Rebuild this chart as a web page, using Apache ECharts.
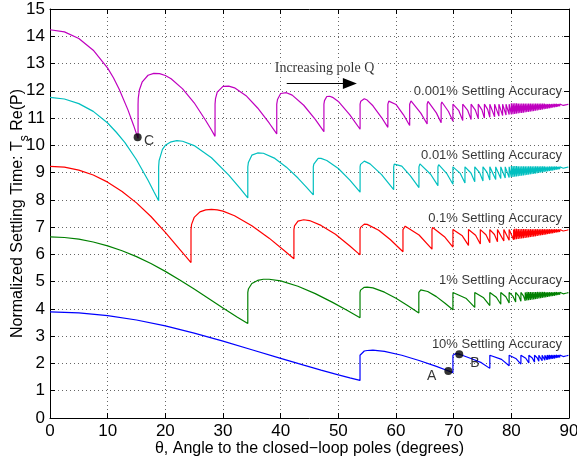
<!DOCTYPE html>
<html><head><meta charset="utf-8">
<script src="https://cdn.jsdelivr.net/npm/echarts@6/dist/echarts.min.js"></script>
<style>html,body{margin:0;padding:0;background:#fff}#c{width:577px;height:461px}</style>
</head><body><div id="c"></div>
<script>
// ---------- data ----------
const xTickValues = [0,10,20,30,40,50,60,70,80,90];
const yTickValues = [0,1,2,3,4,5,6,7,8,9,10,11,12,13,14,15];

const seriesNames = ['0.001% Settling Accuracy','0.01% Settling Accuracy','0.1% Settling Accuracy','1% Settling Accuracy','10% Settling Accuracy'];

const magentaPts = [[0,14.24],[2.5,14.16],[5,13.92],[7.5,13.49],[10,12.83],[11,12.48],[12,12.06],[13.5,11.31],[14.5,10.73],[15,10.42],[15.27,10.26],
[15.27,11.51],[15.3,11.72],[15.5,12.03],[16,12.33],[17,12.57],[18,12.64],[19,12.63],[20,12.56],[21,12.44],[23,12.07],[25,11.56],[27,10.91],[28,10.56],[28.62,10.33],
[28.62,11.51],[28.7,11.71],[29,11.95],[30,12.16],[31,12.17],[32,12.11],[34,11.82],[36,11.37],[38,10.82],[39.32,10.42],
[39.32,11.51],[39.45,11.68],[40,11.9],[41,11.93],[42,11.84],[44,11.47],[46,10.95],[47.5,10.5],
[47.5,11.51],[47.6,11.64],[48,11.79],[48.5,11.8],[49,11.76],[50,11.61],[52,11.12],[53.77,10.59],
[53.77,11.51],[53.9,11.62],[54.5,11.71],[55,11.66],[56,11.45],[57.5,11.02],[58.59,10.66],
[58.59,11.51],[58.75,11.62],[59,11.67],[60,11.5],[61.3,11.12],[62.37,10.73],
[62.37,11.51],[62.6,11.63],[64.3,11.18],[65.4,10.78],
[65.4,11.51],[65.55,11.61],[67,11.19],[67.83,10.83],
[67.83,11.51],[67.95,11.59],[69.1,11.24],[69.87,10.88],
[69.87,11.51],[69.95,11.58],[70.9,11.27],[71.57,10.91],
[71.57,11.51],[71.63,11.57],[72.44,11.28],[73.02,10.95],
[73.02,11.51],[73.07,11.56],[73.76,11.29],[74.26,10.98],
[74.26,11.51],[74.3,11.56],[74.9,11.3],[75.33,11.0],
[75.33,11.51],[75.37,11.55],[75.89,11.32],[76.27,11.03],
[76.27,11.51],[76.3,11.55],[77.1,11.05],
[77.1,11.51],[77.13,11.55],[77.84,11.07],
[77.84,11.51],[77.86,11.54],[78.49,11.09],
[78.49,11.51],[78.51,11.54],[79.08,11.11],
[79.08,11.51],[79.1,11.54],[79.62,11.13],
[79.62,11.51],[79.64,11.54]];

const cyanPts = [[0,11.76],[2.5,11.7],[5,11.53],[7.5,11.245],[10,10.82],[11.5,10.48],[13,10.1],[15,9.47],[17,8.72],[18,8.31],[18.84,7.97],
[18.84,9.21],[18.92,9.44],[19.5,9.85],[20,10.0],[21,10.13],[22,10.17],[23,10.15],[25,9.99],[28,9.545],[31,8.905],[33,8.41],[34.3,8.07],
[34.3,9.21],[34.4,9.37],[35,9.64],[36,9.72],[37,9.71],[39,9.52],[41,9.2],[43,8.8],[44.5,8.46],[45.66,8.18],
[45.66,9.21],[45.75,9.31],[46.5,9.52],[47,9.52],[48,9.445],[50,9.15],[52,8.725],[53.77,8.28],
[53.77,9.21],[53.85,9.3],[54.5,9.42],[55.5,9.32],[57.5,8.925],[59.6,8.375],
[59.6,9.21],[59.7,9.31],[59.95,9.36],[61,9.24],[62.5,8.88],[63.98,8.45],
[63.98,9.21],[64.15,9.32],[66,8.94],[67.27,8.52],
[67.27,9.21],[67.4,9.29],[68.85,8.95],[69.87,8.57],
[69.87,9.21],[69.95,9.27],[71.15,8.97],[71.96,8.62],
[71.96,9.21],[72.02,9.26],[73.0,8.985],[73.66,8.66],
[73.66,9.21],[73.71,9.255],[74.5,9.0],[75.08,8.695],
[75.08,9.21],[75.12,9.25],[75.8,9.01],[76.27,8.73],
[76.27,9.21],[76.3,9.25],[77.29,8.75],
[77.29,9.21],[77.32,9.245],[78.17,8.78],
[78.17,9.21],[78.19,9.24],[78.94,8.8],
[78.94,9.21],[78.96,9.24],[79.62,8.82],
[79.62,9.21],[79.64,9.24]];

const redPts = [[0,9.23],[2.5,9.2],[5,9.09],[7.5,8.91],[10,8.65],[12.5,8.31],[15,7.89],[17.5,7.39],[20,6.81],[22.5,6.185],[23.5,5.935],[24.45,5.7],
[24.45,6.91],[24.55,7.1],[25,7.356],[26,7.56],[27,7.635],[28,7.65],[29,7.636],[30,7.585],[32,7.418],[35,7.05],[38,6.596],[40.5,6.162],[42.3,5.84],
[42.3,6.91],[42.4,7.05],[43,7.22],[44,7.27],[45,7.242],[47,7.064],[49.5,6.74],[52,6.307],[53.76,5.983],
[53.76,6.91],[53.85,6.99],[54.5,7.11],[55,7.1],[57,6.887],[59,6.547],[61.21,6.098],
[61.21,6.91],[61.3,6.98],[61.6,7.035],[64,6.711],[66.24,6.192],
[66.24,6.91],[66.35,6.99],[68.4,6.65],[69.87,6.27],
[69.87,6.91],[69.95,6.97],[71.5,6.68],[72.57,6.33],
[72.57,6.91],[72.63,6.955],[73.8,6.7],[74.62,6.38],
[74.62,6.91],[74.67,6.95],[75.6,6.72],[76.27,6.43],
[76.27,6.91],[76.31,6.945],[77.07,6.73],[77.6,6.46],
[77.6,6.91],[77.63,6.94],[78.7,6.49],
[78.7,6.91],[78.72,6.94],[79.62,6.52],
[79.62,6.91],[79.64,6.94],[80.4,6.54],
[80.4,6.91],[80.42,6.94]];

const greenPts = [[0,6.64],[2.5,6.62],[5,6.557],[7.5,6.455],[10,6.315],[12.5,6.135],[15,5.918],[17.5,5.665],[20,5.378],[22.5,5.063],[25,4.73],[27.5,4.385],[30,4.036],[32.5,3.697],[34.3,3.465],
[34.3,4.605],[34.4,4.73],[35,4.933],[36,5.045],[37,5.088],[38,5.088],[40,5.027],[43,4.832],[46,4.561],[49,4.24],[51.5,3.95],[53.76,3.68],
[53.76,4.605],[53.85,4.69],[54.5,4.793],[55,4.802],[56,4.773],[58,4.615],[60,4.39],[62,4.127],[63.96,3.847],
[63.96,4.605],[64.05,4.67],[64.3,4.7],[65.5,4.64],[67,4.451],[68.5,4.21],[69.87,3.967],
[69.87,4.605],[69.95,4.665],[72.2,4.38],[73.66,4.055],
[73.66,4.605],[73.72,4.65],[75.2,4.41],[76.27,4.123],
[76.27,4.605],[76.31,4.645],[77.4,4.427],[78.17,4.171],
[78.17,4.605],[78.2,4.64],[79.05,4.445],[79.62,4.217],
[79.62,4.605],[79.65,4.635],[80.3,4.46],[80.75,4.25],
[80.75,4.605],[80.77,4.63],[81.3,4.47],[81.66,4.278],
[81.66,4.605],[81.68,4.63],[82.1,4.48],[82.41,4.301],
[82.41,4.605],[82.43,4.625]];

const bluePts = [[0,3.89],[5,3.856],[10,3.756],[15,3.593],[20,3.376],[25,3.112],[30,2.818],[35,2.504],[40,2.186],[44,1.937],[47,1.757],[50,1.583],[52,1.471],[53.76,1.378],
[53.76,2.303],[53.85,2.356],[54.5,2.456],[55,2.475],[56,2.486],[58,2.443],[61,2.301],[64,2.11],[67,1.892],[69,1.735],[69.87,1.665],
[69.87,2.303],[69.95,2.34],[70.3,2.36],[71,2.34],[73,2.182],[74.8,2.03],[76.27,1.82],
[76.27,2.303],[76.35,2.335],[78.3,2.15],[79.62,1.915],
[79.62,2.303],[79.68,2.33],[80.85,2.17],[81.66,1.976],
[81.66,2.303],[81.7,2.325],[82.5,2.19],[83.04,2.02],
[83.04,2.303],[83.07,2.32],[83.63,2.2],[84.02,2.05],
[84.02,2.303],[84.05,2.318],[84.47,2.21],[84.77,2.08],
[84.77,2.303],[84.8,2.316],[85.34,2.1],
[85.34,2.303],[85.36,2.315],[85.81,2.118],
[85.81,2.303],[85.83,2.314],[86.19,2.135],
[86.19,2.303],[86.21,2.313]];

// dense oscillation tails near 90 degrees (tooth bottoms / tooth tops)
const tailThetaMC = [80,80.3,80.6,80.9,81.2,81.5,81.8,82.1,82.4,82.7,83,83.3,83.6,83.9,84.2,84.5,84.8,85.1,85.4,85.7,86,86.3,86.6,86.9,87.2,87.5,87.8,88.1,88.4,88.7,89,89.3,89.6,89.9];
const magentaTailLow = [11.135,11.144,11.153,11.163,11.173,11.182,11.190,11.199,11.209,11.219,11.231,11.239,11.248,11.258,11.269,11.281,11.294,11.304,11.315,11.326,11.337,11.349,11.361,11.372,11.384,11.396,11.410,11.421,11.434,11.448,11.463,11.477,11.492,11.508];
const magentaTailHigh = [11.54,11.54,11.54,11.54,11.53,11.53,11.53,11.53,11.53,11.53,11.53,11.53,11.53,11.53,11.53,11.53,11.53,11.53,11.53,11.53,11.52,11.52,11.52,11.52,11.52,11.52,11.52,11.515,11.515,11.515,11.515,11.515,11.515,11.515];
const cyanTailLow = [8.832,8.841,8.850,8.860,8.870,8.879,8.887,8.896,8.906,8.916,8.928,8.936,8.945,8.955,8.966,8.978,8.991,9.001,9.012,9.023,9.034,9.046,9.058,9.069,9.081,9.093,9.107,9.118,9.131,9.145,9.160,9.174,9.189,9.205];
const cyanTailHigh = [9.24,9.24,9.24,9.24,9.23,9.23,9.23,9.23,9.23,9.23,9.23,9.23,9.23,9.23,9.23,9.23,9.23,9.23,9.23,9.23,9.22,9.22,9.22,9.22,9.22,9.22,9.22,9.215,9.215,9.215,9.215,9.215,9.215,9.215];
const tailThetaRed = [80.6,80.9,81.2,81.5,81.8,82.1,82.4,82.7,83,83.3,83.6,83.9,84.2,84.5,84.8,85.1,85.4,85.7,86,86.3,86.6,86.9,87.2,87.5,87.8,88.1,88.4,88.7,89,89.3,89.6,89.9];
const redTailLow = [6.548,6.558,6.568,6.577,6.585,6.594,6.604,6.614,6.626,6.634,6.643,6.653,6.664,6.676,6.689,6.699,6.710,6.721,6.732,6.744,6.756,6.767,6.779,6.791,6.805,6.816,6.829,6.843,6.858,6.872,6.887,6.903];
const redTailHigh = [6.94,6.94,6.93,6.93,6.93,6.93,6.93,6.93,6.925,6.925,6.925,6.925,6.925,6.925,6.925,6.925,6.925,6.925,6.92,6.92,6.92,6.92,6.92,6.92,6.92,6.915,6.915,6.915,6.915,6.915,6.915,6.915];
const tailThetaGreen = [82.7,83,83.3,83.6,83.9,84.2,84.5,84.8,85.1,85.4,85.7,86,86.3,86.6,86.9,87.2,87.5,87.8,88.1,88.4,88.7,89,89.3,89.6,89.9];
const greenTailLow = [4.311,4.323,4.331,4.340,4.350,4.361,4.373,4.386,4.396,4.407,4.418,4.429,4.441,4.453,4.464,4.476,4.488,4.502,4.513,4.526,4.540,4.555,4.569,4.584,4.600];
const greenTailHigh = [4.625,4.62,4.62,4.62,4.62,4.62,4.62,4.62,4.62,4.62,4.62,4.615,4.615,4.615,4.615,4.615,4.615,4.615,4.61,4.61,4.61,4.61,4.61,4.61,4.61];
const tailThetaBlue = [86.3,86.6,86.9,87.2,87.5,87.8,88.1,88.4,88.7,89,89.3,89.6,89.9];
const blueTailLow = [2.139,2.151,2.162,2.174,2.186,2.200,2.211,2.224,2.238,2.253,2.267,2.282,2.298];
const blueTailHigh = [2.313,2.313,2.313,2.313,2.313,2.313,2.308,2.308,2.308,2.308,2.308,2.308,2.308];

// annotated points
const pointNames = ['C','A','B'];
const pointTheta = [15.2,69.07,70.97];
const pointValue = [10.3,1.72,2.335];

// ---------- build ----------
function withTail(main, th, lo, hi){
  const out = main.slice();
  for (let i=0;i<th.length;i++){ out.push([th[i],lo[i]]); out.push([th[i],hi[i]]); }
  return out;
}
const curves = [
  {pts: withTail(magentaPts, tailThetaMC, magentaTailLow, magentaTailHigh), color:'#bf00bf'},
  {pts: withTail(cyanPts, tailThetaMC, cyanTailLow, cyanTailHigh), color:'#00bfbf'},
  {pts: withTail(redPts, tailThetaRed, redTailLow, redTailHigh), color:'#ff0000'},
  {pts: withTail(greenPts, tailThetaGreen, greenTailLow, greenTailHigh), color:'#008000'},
  {pts: withTail(bluePts, tailThetaBlue, blueTailLow, blueTailHigh), color:'#0000ff'}
];

const SANS = 'Liberation Sans, Arial, Helvetica, sans-serif';
const chart = echarts.init(document.getElementById('c'), null, {renderer:'canvas'});

const series = curves.map((c,i)=>({
  type:'line', name: seriesNames[i], data:c.pts, showSymbol:false, symbol:'none',
  lineStyle:{color:c.color, width:1.2}, itemStyle:{color:c.color}, z:3, silent:true, animation:false
}));

const labelPos = [[88.95,11.965],[88.95,9.644],[88.95,7.323],[88.95,5.06],[88.95,2.714]];
series.push({
  type:'scatter', symbolSize:0, silent:true, z:5,
  data: seriesNames.map((n,i)=>({value:labelPos[i], name:n})),
  label:{show:true, position:[0,0], align:'right', verticalAlign:'middle', formatter:p=>p.name,
    fontFamily:SANS, fontSize:13, color:'#000', backgroundColor:'#fff', padding:[0,1,0,1]}
});
series.push({
  type:'scatter', symbolSize:0, silent:true, z:5,
  data:[{value:[38.8,12.83], name:'Increasing pole Q'}],
  label:{show:true, position:[0,0], align:'left', verticalAlign:'middle', formatter:p=>p.name,
    fontFamily:'Liberation Serif, Times New Roman, serif', fontSize:14, color:'#000', backgroundColor:'#fff', padding:[0,1,0,1]},
  markLine:{silent:true, symbol:['none','triangle'], symbolSize:[11,14], animation:false,
    lineStyle:{color:'#000', width:1.2, type:'solid'}, label:{show:false},
    data:[[{coord:[41.05,12.27]},{coord:[52.0,12.27]}]]}
});
series.push({
  type:'scatter', symbol:'circle', symbolSize:8, silent:true, z:6,
  itemStyle:{color:'#000'},
  data: pointNames.map((n,i)=>({value:[pointTheta[i],pointValue[i]], name:n}))
});
const letterPos = [[17.17,10.17],[66.2,1.54],[73.7,2.0]];
series.push({
  type:'scatter', symbolSize:0, silent:true, z:6,
  data: pointNames.map((n,i)=>({value:letterPos[i], name:n})),
  label:{show:true, position:[0,0], align:'center', verticalAlign:'middle', formatter:p=>p.name,
    fontFamily:SANS, fontSize:14, color:'#000'}
});

const gridLine = {show:true, lineStyle:{color:'#666', width:1, type:[1,3]}};
chart.setOption({
  animation:false,
  backgroundColor:'#fff',
  grid:{left:50, right:8, top:9, bottom:43, containLabel:false, outerBoundsMode:'none'},
  xAxis:[
    {type:'value', min:xTickValues[0], max:xTickValues[xTickValues.length-1], interval:10, position:'bottom',
     axisLine:{show:true, onZero:false, lineStyle:{color:'#000', width:1}},
     axisTick:{show:true, inside:true, length:5, lineStyle:{color:'#000'}},
     axisLabel:{color:'#000', fontSize:17, fontFamily:SANS, margin:5},
     splitLine:gridLine,
     name:'θ, Angle to the closed\u2212loop poles (degrees)', nameLocation:'middle', nameGap:23, nameMoveOverlap:false,
     nameTextStyle:{color:'#000', fontSize:16, fontFamily:SANS}},
    {type:'value', min:0, max:90, interval:10, position:'top',
     axisLine:{show:true, onZero:false, lineStyle:{color:'#000', width:1}},
     axisTick:{show:true, inside:true, length:5, lineStyle:{color:'#000'}},
     axisLabel:{show:false}, splitLine:{show:false}}
  ],
  yAxis:[
    {type:'value', min:yTickValues[0], max:yTickValues[yTickValues.length-1], interval:1, position:'left',
     axisLine:{show:true, onZero:false, lineStyle:{color:'#000', width:1}},
     axisTick:{show:true, inside:true, length:5, lineStyle:{color:'#000'}},
     axisLabel:{color:'#000', fontSize:17, fontFamily:SANS, margin:5},
     splitLine:gridLine,
     name:'{a|Normalized Settling Time: T}{s|s}{a| Re(P)}', nameLocation:'middle', nameGap:19, nameMoveOverlap:false,
     nameTextStyle:{color:'#000', fontFamily:SANS,
       rich:{a:{fontSize:16, fontFamily:SANS, color:'#000', padding:[0,0,5,0], verticalAlign:'bottom'},
             s:{fontSize:12, fontFamily:SANS, color:'#000', verticalAlign:'bottom'}}}},
    {type:'value', min:0, max:15, interval:1, position:'right',
     axisLine:{show:true, onZero:false, lineStyle:{color:'#000', width:1}},
     axisTick:{show:true, inside:true, length:5, lineStyle:{color:'#000'}},
     axisLabel:{show:false}, splitLine:{show:false}}
  ],
  series: series
});
</script>
</body></html>
